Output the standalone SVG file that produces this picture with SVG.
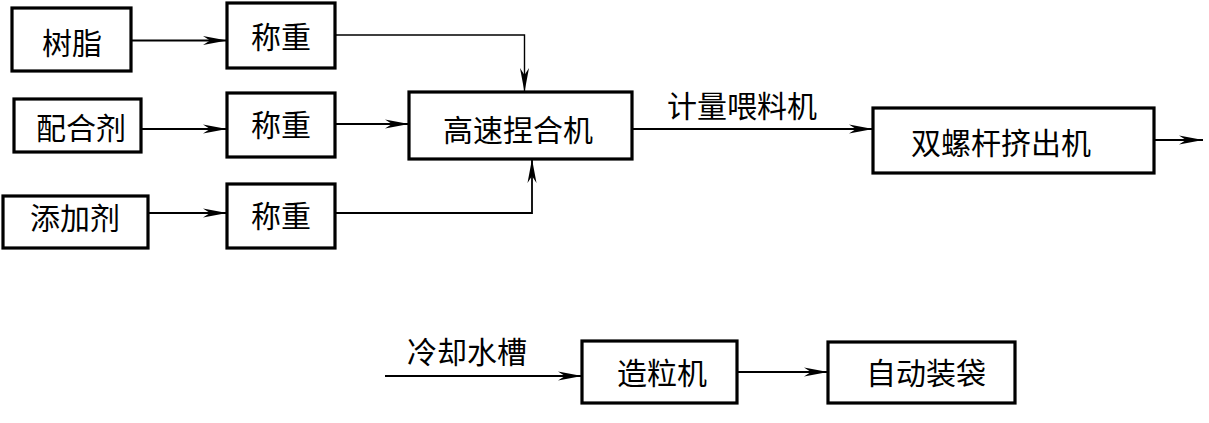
<svg xmlns="http://www.w3.org/2000/svg" width="1209" height="423" viewBox="0 0 1209 423">
<style>
.box{fill:#fff;stroke:#000;stroke-width:3.2}
.t{font-family:"Noto Sans CJK SC","Noto Sans",sans-serif;font-size:30px;fill:#000;text-anchor:middle}
.c{fill:none;stroke:#000;stroke-width:1.8}
</style>
<defs>
<marker id="ah" markerUnits="userSpaceOnUse" markerWidth="26" markerHeight="12" viewBox="-24 -6 26 12" refX="0" refY="0" orient="auto">
<path d="M0,0 L-24,-4.5 L-17,0 L-24,4.5 Z" fill="#000"/>
</marker>
</defs>
<rect width="1209" height="423" fill="#fff"/>
<g id="connectors">
<path class="c" d="M131,40.5 H227" marker-end="url(#ah)"/>
<path class="c" d="M141,129 H227" marker-end="url(#ah)"/>
<path class="c" d="M148,213 H227" marker-end="url(#ah)"/>
<path class="c" style="stroke-width:1.4" d="M335,35 H524.5 V92" marker-end="url(#ah)"/>
<path class="c" d="M335,124 H409" marker-end="url(#ah)"/>
<path class="c" d="M335,213 H532 V159" marker-end="url(#ah)"/>
<path class="c" d="M632,129 H873" marker-end="url(#ah)"/>
<path class="c" d="M1154,140 H1203" marker-end="url(#ah)"/>
<path class="c" d="M385,376 H582" marker-end="url(#ah)"/>
<path class="c" d="M737,372 H828" marker-end="url(#ah)"/>
</g>
<g id="n-shuzhi"><rect class="box" x="12" y="8" width="119" height="63"/><text class="t" x="72" y="54">树脂</text></g>
<g id="n-chengzhong1"><rect class="box" x="227" y="3" width="108" height="65"/><text class="t" x="281" y="48">称重</text></g>
<g id="n-peiheji"><rect class="box" x="14" y="99" width="127" height="53"/><text class="t" x="81" y="139">配合剂</text></g>
<g id="n-chengzhong2"><rect class="box" x="227" y="93" width="108" height="64"/><text class="t" x="281" y="136">称重</text></g>
<g id="n-tianjiaji"><rect class="box" x="3" y="196" width="145" height="52"/><text class="t" x="75" y="229">添加剂</text></g>
<g id="n-chengzhong3"><rect class="box" x="227" y="184" width="108" height="64"/><text class="t" x="281" y="227">称重</text></g>
<g id="n-niehe"><rect class="box" x="409" y="92" width="223" height="67"/><text class="t" x="518" y="141">高速捏合机</text></g>
<g id="l-jiliang"><text class="t" x="742" y="117">计量喂料机</text></g>
<g id="n-shuangluogan"><rect class="box" x="873" y="108" width="281" height="65"/><text class="t" x="1001" y="154">双螺杆挤出机</text></g>
<g id="l-lengque"><text class="t" x="467" y="363">冷却水槽</text></g>
<g id="n-zaoli"><rect class="box" x="582" y="341" width="155" height="62"/><text class="t" x="662" y="384">造粒机</text></g>
<g id="n-zidong"><rect class="box" x="828" y="342" width="187" height="61"/><text class="t" x="926" y="384">自动装袋</text></g>
</svg>
